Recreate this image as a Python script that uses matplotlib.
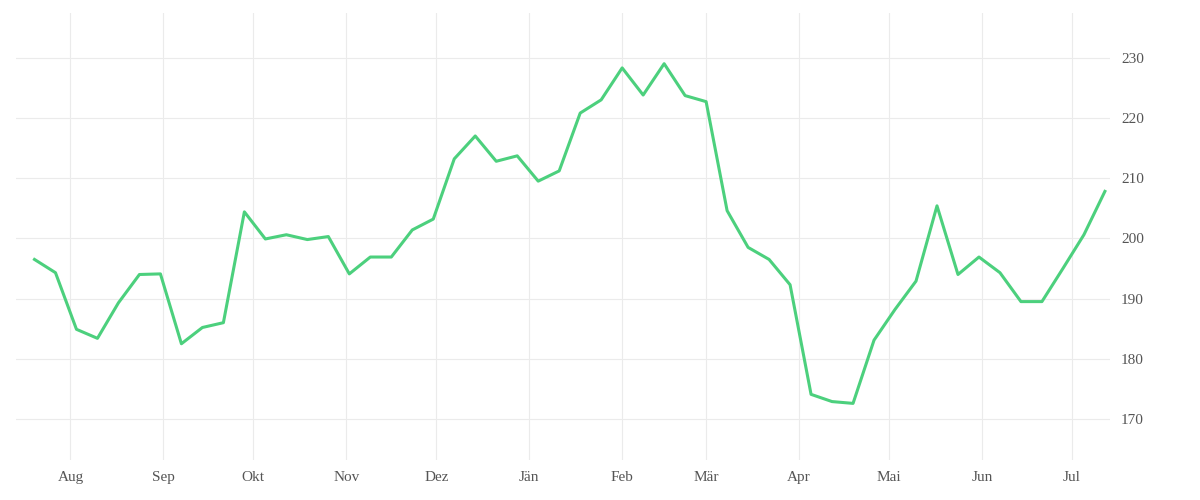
import pandas as pd
import matplotlib.pyplot as plt
import matplotlib.dates as mdates

start_date = "2022-07-20"
values = [
    196.5, 194.3, 184.9, 183.4, 189.3, 194.0, 194.1, 182.5, 185.2, 186.0,
    204.4, 199.9, 200.6, 199.8, 200.3, 194.1, 196.9, 196.9, 201.4, 203.2,
    213.2, 217.0, 212.8, 213.7, 209.5, 211.2, 220.8, 223.0, 228.3, 223.8,
    229.0, 223.7, 222.7, 204.6, 198.5, 196.5, 192.3, 174.1, 172.9, 172.6,
    183.1, 188.2, 192.9, 205.4, 194.0, 196.9, 194.3, 189.5, 189.5, 195.0,
    200.6, 207.8,
]
month_labels = ["Aug", "Sep", "Okt", "Nov", "Dez", "Jän", "Feb", "Mär", "Apr", "Mai", "Jun", "Jul"]
yticks = [170, 180, 190, 200, 210, 220, 230]

dates = pd.date_range(start_date, periods=len(values), freq="7D")
month_ticks = pd.date_range("2022-08-01", periods=len(month_labels), freq="MS")

plt.rcParams["font.family"] = ["Liberation Serif", "DejaVu Serif"]
fig, ax = plt.subplots(figsize=(12, 5), dpi=100)
fig.subplots_adjust(left=0.013, right=0.925, top=0.975, bottom=0.08)

ax.plot(dates, values, color="#4cd07d", linewidth=2.2)

ax.set_xticks(month_ticks)
ax.set_xticklabels(month_labels)
ax.set_yticks(yticks)
ax.yaxis.tick_right()
ax.set_ylim(163.2, 237.5)
ax.set_xlim(dates[0] - pd.Timedelta(days=6.3), dates[-1] + pd.Timedelta(days=1.7))

ax.grid(True, color="#ebebeb", linewidth=0.8)
for s in ax.spines.values():
    s.set_visible(False)
ax.tick_params(length=0, colors="#555555", labelsize=11, pad=8)

fig.savefig("out.png")
